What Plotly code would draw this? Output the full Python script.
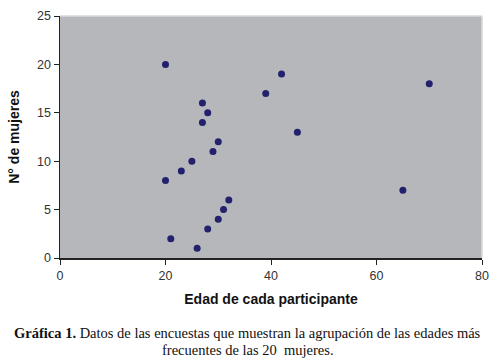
import plotly.graph_objects as go

edad = [20, 27, 28, 27, 30, 29, 25, 23, 20, 32, 31, 30, 28, 21, 26, 42, 39, 70, 45, 65]
mujeres = [20, 16, 15, 14, 12, 11, 10, 9, 8, 6, 5, 4, 3, 2, 1, 19, 17, 18, 13, 7]
x_ticks = [0, 20, 40, 60, 80]
y_ticks = [0, 5, 10, 15, 20, 25]

fig = go.Figure()
fig.add_trace(go.Scatter(
    x=edad, y=mujeres, mode="markers",
    marker=dict(size=7, color="#23206E", line=dict(width=0)),
    showlegend=False, hoverinfo="skip", cliponaxis=False))

axis_font = dict(family="Liberation Sans, Arial, sans-serif", size=12.5, color="#333333")
title_font = dict(family="Liberation Sans, Arial, sans-serif", size=14, color="#111111")
fig.update_layout(
    width=492, height=360,
    margin=dict(l=60, r=10, t=16, b=102, autoexpand=False),
    paper_bgcolor="white", plot_bgcolor="#B5B7BA",
    font=axis_font,
    xaxis=dict(range=[0, 80], tickvals=x_ticks, showgrid=False, zeroline=False,
               showline=True, linecolor="#222222", linewidth=1.5, automargin=False,
               ticks="outside", ticklen=5, tickcolor="#222222",
               title=dict(text="<b>Edad de cada participante</b>", font=title_font, standoff=12)),
    yaxis=dict(range=[0, 25], tickvals=y_ticks, showgrid=False, zeroline=False,
               showline=True, linecolor="#222222", linewidth=1.5, automargin=False,
               ticks="outside", ticklen=5, tickcolor="#222222",
               title=dict(text="<b>N° de mujeres</b>", font=title_font, standoff=14)),
)
fig.add_shape(type="line", xref="paper", yref="paper", x0=0, x1=1, y0=1, y1=1,
              line=dict(color="#D8D9DB", width=1.5))
fig.add_shape(type="line", xref="paper", yref="paper", x0=1, x1=1, y0=0, y1=1,
              line=dict(color="#D8D9DB", width=1.5))

cap_font = dict(family="Liberation Serif, Times New Roman, serif", size=14.5, color="#111111")
fig.add_annotation(xref="paper", yref="paper", x=0.445, y=-0.31, xanchor="center", yanchor="middle",
                   text="<b>Gráfica 1.</b> Datos de las encuestas que muestran la agrupación de las edades más",
                   showarrow=False, font=cap_font)
fig.add_annotation(xref="paper", yref="paper", x=0.445, y=-0.38, xanchor="center", yanchor="middle",
                   text="frecuentes de las 20  mujeres.",
                   showarrow=False, font=cap_font)

fig.write_html("out.html", config={"displayModeBar": False, "staticPlot": True},
               post_script="document.body.style.margin='0';document.body.style.overflow='hidden';")
